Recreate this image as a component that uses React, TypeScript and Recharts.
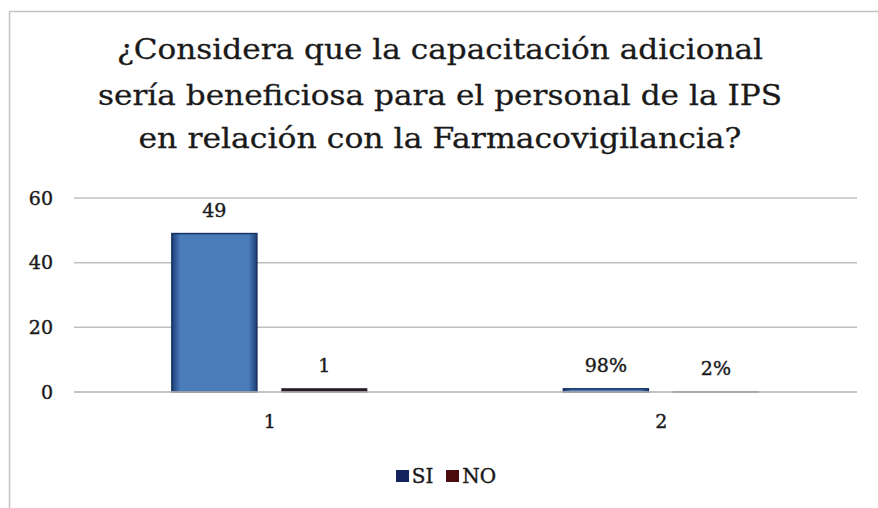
import React from "react";
import { BarChart, Bar, XAxis, YAxis, CartesianGrid, Legend, LabelList } from "recharts";

const categories = ["1", "2"];
const siValues = [49, 0.98];
const noValues = [1, 0.02];
const siLabels = ["49", "98%"];
const noLabels = ["1", "2%"];
const yTicks = [0, 20, 40, 60];
const titleLines = [
  "¿Considera que la capacitación adicional",
  "sería beneficiosa para el personal de la IPS",
  "en relación con la Farmacovigilancia?",
];
const seriesNames = ["SI", "NO"];
const legendColors = ["#14235e", "#4a0c0c"];

const data = categories.map((c, i) => ({ cat: c, SI: siValues[i], NO: noValues[i] }));

const FONT = "'DejaVu Serif', serif";
const INK = "#1a1a1a";

const SiShape = (props: any) => {
  const { x, y, width, height } = props;
  if (!height || height <= 0) return null;
  return (
    <g>
      <defs>
        <linearGradient id="siGradH" x1="0" y1="0" x2="1" y2="0">
          <stop offset="0%" stopColor="#1d3f78" />
          <stop offset="10%" stopColor="#4a7cba" />
          <stop offset="90%" stopColor="#4a7cba" />
          <stop offset="100%" stopColor="#1d3f78" />
        </linearGradient>
      </defs>
      <rect x={x} y={y} width={width} height={height} fill="url(#siGradH)" stroke="#17315f" strokeWidth={1.5} />
    </g>
  );
};

const NoShape = (props: any) => {
  const { x, y, width, height } = props;
  if (!height || height <= 0) return null;
  return <rect x={x} y={y} width={width} height={height} fill="#2e1c26" stroke="#221a24" strokeWidth={1} />;
};

const makeLabel = (labels: string[]) => (props: any) => {
  const { x, y, width, index } = props;
  return (
    <text
      x={Number(x) + Number(width) / 2}
      y={Number(y) - 17}
      textAnchor="middle"
      fontFamily={FONT}
      fontSize={19}
      fill={INK}
      stroke={INK}
      strokeWidth={0.4}
    >
      {labels[index]}
    </text>
  );
};

const LegendContent = () => (
  <div
    style={{
      display: "flex",
      justifyContent: "center",
      alignItems: "center",
      fontFamily: FONT,
      fontSize: 20,
      color: INK,
      paddingLeft: 14,
      WebkitTextStroke: "0.4px #1a1a1a",
    }}
  >
    {seriesNames.map((n, i) => (
      <div key={n} style={{ display: "flex", alignItems: "center", marginRight: i === 0 ? 13 : 0 }}>
        <span style={{ display: "inline-block", width: 13, height: 12, background: legendColors[i], marginRight: 3 }} />
        <span>{n}</span>
      </div>
    ))}
  </div>
);

const titleLayout = [
  { y: 59, len: 646 },
  { y: 105, len: 684 },
  { y: 148, len: 603 },
];

export default function App() {
  return (
    <div style={{ position: "absolute", left: 0, top: 0, width: 878, height: 508, background: "#fff" }}>
      <BarChart
        width={878}
        height={508}
        data={data}
        margin={{ top: 198, right: 21, left: 14, bottom: 76 }}
        barCategoryGap="25%"
        barGap={25}
      >
        <CartesianGrid vertical={false} stroke="#bfbfbf" strokeWidth={1.5} />
        <XAxis
          dataKey="cat"
          axisLine={{ stroke: "#bfbfbf", strokeWidth: 1.5 }}
          tickLine={false}
          tickMargin={17}
          height={40}
          tick={{ fontFamily: FONT, fontSize: 19, fill: INK, stroke: INK, strokeWidth: 0.4 }}
        />
        <YAxis
          domain={[0, 60]}
          ticks={yTicks}
          axisLine={false}
          tickLine={false}
          tickMargin={15}
          width={60}
          tick={{ fontFamily: FONT, fontSize: 19, fill: INK, stroke: INK, strokeWidth: 0.4 }}
        />
        <Legend
          layout="vertical"
          align="center"
          verticalAlign="middle"
          wrapperStyle={{ position: "absolute", top: 464, left: 0, width: 878 }}
          content={<LegendContent />}
        />
        <Bar dataKey="SI" name="SI" fill="#4a7cba" shape={<SiShape />} isAnimationActive={false}>
          <LabelList dataKey="SI" content={makeLabel(siLabels)} />
        </Bar>
        <Bar dataKey="NO" name="NO" fill="#2e1c26" shape={<NoShape />} isAnimationActive={false}>
          <LabelList dataKey="NO" content={makeLabel(noLabels)} />
        </Bar>
      </BarChart>
      <svg width={878} height={508} style={{ position: "absolute", left: 0, top: 0, pointerEvents: "none" }}>
        <line x1={9.5} y1={11} x2={9.5} y2={508} stroke="#c4c4c4" strokeWidth={1.5} />
        <line x1={9} y1={11.5} x2={878} y2={11.5} stroke="#c4c4c4" strokeWidth={1.5} />
        {titleLines.map((t, i) => (
          <text
            key={i}
            x={440}
            y={titleLayout[i].y}
            textAnchor="middle"
            fontFamily={FONT}
            fontSize={27}
            fill={INK}
            stroke={INK}
            strokeWidth={0.3}
            textLength={titleLayout[i].len}
            lengthAdjust="spacingAndGlyphs"
          >
            {t}
          </text>
        ))}
      </svg>
    </div>
  );
}
